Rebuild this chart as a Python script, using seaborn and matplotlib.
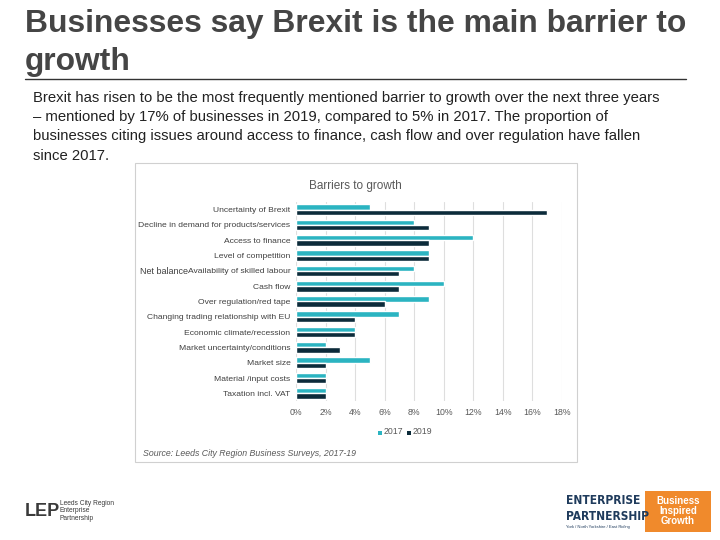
import matplotlib
matplotlib.use("Agg")
import matplotlib.pyplot as plt
import seaborn as sns
import pandas as pd
from matplotlib.patches import Rectangle

categories = [
    "Uncertainty of Brexit",
    "Decline in demand for products/services",
    "Access to finance",
    "Level of competition",
    "Availability of skilled labour",
    "Cash flow",
    "Over regulation/red tape",
    "Changing trading relationship with EU",
    "Economic climate/recession",
    "Market uncertainty/conditions",
    "Market size",
    "Material /input costs",
    "Taxation incl. VAT",
]
values_2017 = [5, 8, 12, 9, 8, 10, 9, 7, 4, 2, 5, 2, 2]
values_2019 = [17, 9, 9, 9, 7, 7, 6, 4, 4, 3, 2, 2, 2]
series = ["2017", "2019"]
x_ticks = [0, 2, 4, 6, 8, 10, 12, 14, 16, 18]
x_tick_labels = ["0%", "2%", "4%", "6%", "8%", "10%", "12%", "14%", "16%", "18%"]

df = pd.DataFrame({
    "category": categories * 2,
    "value": values_2017 + values_2019,
    "year": [series[0]] * len(categories) + [series[1]] * len(categories),
})

sns.set_theme(style="white")
plt.rcParams["font.family"] = ["Liberation Sans", "DejaVu Sans"]

W, H = 720, 540
fig = plt.figure(figsize=(7.2, 5.4), dpi=100)
fig.patch.set_facecolor("white")

def fx(x):
    return x / W

def fy(y):
    return 1 - y / H

# Title
fig.text(fx(25), fy(24), "Businesses say Brexit is the main barrier to", fontsize=22.9,
         fontweight="bold", color="#454545", va="center", ha="left")
fig.text(fx(25), fy(62), "growth", fontsize=22.9, fontweight="bold", color="#454545",
         va="center", ha="left")
fig.add_artist(plt.Line2D([fx(25), fx(686)], [fy(79), fy(79)], color="#333333", lw=1.0))

body = [
    "Brexit has risen to be the most frequently mentioned barrier to growth over the next three years",
    "\u2013 mentioned by 17% of businesses in 2019, compared to 5% in 2017. The proportion of",
    "businesses citing issues around access to finance, cash flow and over regulation have fallen",
    "since 2017.",
]
for i, line in enumerate(body):
    fig.text(fx(33), fy(98 + i * 19.2), line, fontsize=10.7, color="#222222",
             va="center", ha="left")

# chart frame
fig.add_artist(Rectangle((fx(135), fy(462)), fx(577) - fx(135), fy(163) - fy(462),
                         transform=fig.transFigure, facecolor="none",
                         edgecolor="#d0d0d0", lw=0.8, zorder=-5))

ax = fig.add_axes([fx(296), fy(401), fx(562) - fx(296), fy(202) - fy(401)])
ax.set_facecolor("none")
palette = {"2017": "#2bb4c1", "2019": "#0c2b3a"}
sns.barplot(data=df, y="category", x="value", hue="year", hue_order=series,
            order=categories, orient="h", palette=palette, width=0.7,
            saturation=1, ax=ax, legend=False)
ax.set_xlim(0, 18)
ax.set_xticks(x_ticks)
ax.set_xticklabels(x_tick_labels)
ax.set_xlabel("")
ax.set_ylabel("")
ax.grid(axis="x", color="#dedede", lw=0.8)
ax.set_axisbelow(True)
for s in ax.spines.values():
    s.set_visible(False)
ax.tick_params(axis="both", length=0, labelsize=6.3, colors="#595959", pad=4)
ax.tick_params(axis="y", labelsize=6.1)
ax.tick_params(axis="x", pad=5)
for lbl in ax.get_yticklabels():
    lbl.set_color("#404040")

fig.text(fx(355), fy(186), "Barriers to growth", fontsize=8.5, color="#595959",
         ha="center", va="center")
fig.text(fx(140), fy(271), "Net balance", fontsize=6.5, color="#404040",
         ha="left", va="center")

# legend
for i, (name, xpos) in enumerate(zip(series, [378, 407])):
    fig.add_artist(Rectangle((fx(xpos), fy(434.5)), fx(4), fy(0) - fy(4),
                             transform=fig.transFigure, facecolor=palette[name], lw=0))
    fig.text(fx(xpos + 6), fy(432), name, fontsize=6.3, color="#595959",
             ha="left", va="center")

fig.text(fx(143), fy(453), "Source: Leeds City Region Business Surveys, 2017-19", fontsize=6.3,
         color="#595959", style="italic", ha="left", va="center")

# left logo
fig.text(fx(25), fy(512), "LEP", fontsize=13, fontweight="bold", color="#3a3a3a",
         ha="left", va="center")
fig.text(fx(60), fy(511), "Leeds City Region\nEnterprise\nPartnership", fontsize=4.8,
         color="#3a3a3a", ha="left", va="center", linespacing=1.1)

# right logo
fig.text(fx(566), fy(500), "ENTERPRISE", fontsize=8.6, fontweight="bold", color="#1f3b5c",
         ha="left", va="center", family="DejaVu Sans", fontstretch="condensed")
fig.text(fx(566), fy(516), "PARTNERSHIP", fontsize=8.6, fontweight="bold", color="#1f3b5c",
         ha="left", va="center", family="DejaVu Sans", fontstretch="condensed")
fig.text(fx(566), fy(527), "York / North Yorkshire / East Riding", fontsize=3.0, color="#1f3b5c",
         ha="left", va="center")
fig.add_artist(Rectangle((fx(645), fy(532)), fx(66), fy(491) - fy(532),
                         transform=fig.transFigure, facecolor="#f08a2c", lw=0))
fig.text(fx(678), fy(511.5), "Business\nInspired\nGrowth", fontsize=7, fontweight="bold",
         color="white", ha="center", va="center", linespacing=1.0)

fig.savefig("out.png", dpi=100)
